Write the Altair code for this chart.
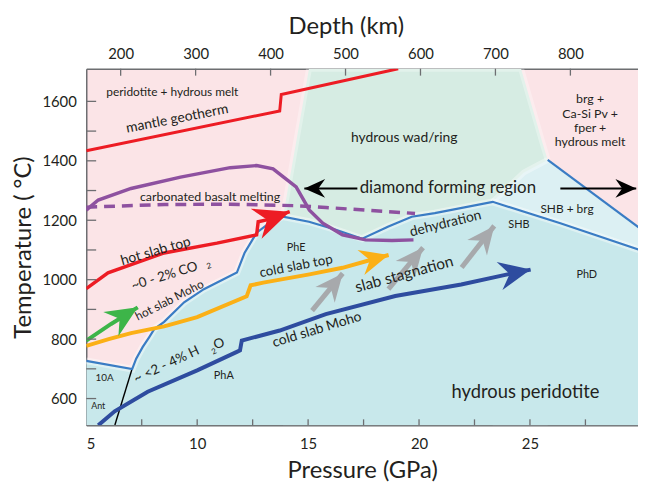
import math
import altair as alt
import pandas as pd

# ---------------- axes / scales ----------------
P_DOMAIN = [5, 29.87]
T_DOMAIN = [510, 1710]
DEPTH_DOMAIN = [154.1, 890.2]
W, H = 557, 360

x_label_values = [5, 10, 15, 20, 25]
x_tick_values = [7.5, 10, 12.5, 15, 17.5, 20, 22.5, 25, 27.5]
y_label_values = [600, 800, 1000, 1200, 1400, 1600]
y_tick_values = [600, 700, 800, 900, 1000, 1100, 1200, 1300, 1400, 1500, 1600]
depth_values = [200, 300, 400, 500, 600, 700, 800]

# ---------------- region boundaries ----------------
green_P = [13.87, 15.04, 24.6, 25.54, 25.8]
green_T = [1212, 1710, 1710, 1467, 1403]

lightcyan_P = [23.32, 24.73, 25.8, 29.9]
lightcyan_T = [1262, 1361, 1403, 1176]

boundary_P = [5, 7.07, 7.25, 7.54, 7.84, 8.07, 8.51, 9.41, 10.3, 11.79, 12.14, 12.68,
              13.26, 13.87, 15.04, 16.25, 17.44, 18.62, 19.67, 20.71, 23.32, 26.37, 29.9]
boundary_T = [727, 699, 734, 773, 807, 834, 858, 924, 968, 1024, 1091, 1158,
              1191, 1212, 1195, 1168, 1138, 1179, 1212, 1224, 1262, 1190, 1101]

upper_P = [25.8, 29.9]
upper_T = [1403, 1176]

black_P = [6.29, 7.05]
black_T = [511, 696]

# ---------------- curves ----------------
mantle_P = [5, 13.72, 13.79, 19.06]
mantle_T = [1434, 1568, 1623, 1710]

hot_top_P = [5, 5.98, 8.51, 10.89, 12.68, 12.75, 13.13, 14.17]
hot_top_T = [970, 1023, 1090, 1123, 1151, 1195, 1201, 1229]

purple_P = [5, 5.54, 7.02, 9.25, 11.49, 12.68, 13.42, 14.46, 15.06, 15.66, 16.55, 17.59, 18.78, 19.75]
purple_T = [1234, 1268, 1307, 1345, 1377, 1384, 1373, 1312, 1234, 1190, 1151, 1134, 1132, 1134]

carb_P = [5, 8.53, 11.47, 14.46, 15.8, 19.82]
carb_T = [1244, 1253, 1254, 1249, 1243, 1223]

cold_top_P = [5, 6.01, 7.02, 8.51, 10.0, 12.23, 12.41, 12.98, 15.06, 16.55, 17.89, 18.63]
cold_top_T = [777, 800, 820, 843, 874, 944, 981, 990, 1018, 1040, 1068, 1083]

cold_moho_P = [5.54, 6.28, 7.77, 10.0, 11.79, 11.93, 12.01, 13.72, 15.8, 18.93, 21.9, 23.99, 25.03]
cold_moho_T = [510, 557, 623, 695, 757, 762, 795, 829, 884, 945, 984, 1018, 1034]

hot_moho_P = [5, 6.12, 7.32]
hot_moho_T = [795, 851, 907]

gray1_P, gray1_T = [15.18, 16.56], [896, 1021]
gray2_P, gray2_T = [18.62, 20.18], [968, 1108]
gray3_P, gray3_T = [21.92, 23.39], [1041, 1181]

diamL_P, diamL_T = [17.22, 14.83], [1307, 1307]
diamR_P, diamR_T = [26.37, 29.79], [1307, 1307]

# ---------------- labels ----------------
label_text = ["peridotite + hydrous melt", "mantle geotherm", "carbonated basalt melting",
              "hot slab top", "~0 - 2% CO", "2", "hot slab Moho", "cold slab top", "PhE",
              "~ <2 - 4% H", "2", "O", "PhA", "10A", "Ant", "cold slab Moho",
              "slab stagnation", "dehydration", "SHB", "SHB + brg", "hydrous wad/ring",
              "brg +", "Ca-Si Pv +", "fper +", "hydrous melt", "diamond forming region",
              "hydrous peridotite", "PhD"]
label_P = [8.88, 9.1, 10.58, 8.13, 8.53, 10.54, 8.75, 14.46, 14.46,
           8.62, 10.77, 10.99, 11.2, 5.83, 5.54, 15.4,
           19.33, 21.2, 24.5, 26.67, 19.33,
           27.71, 27.71, 27.71, 27.71, 21.3,
           24.8, 27.56]
label_T = [1631, 1541, 1277, 1095, 1012, 1045, 931, 1045, 1106,
           714, 757, 784, 676, 668, 575, 831,
           1018, 1188, 1184, 1238, 1475,
           1607, 1557, 1509, 1462, 1307,
           623, 1014]
# style per label: (font size, rotation)
label_style = [(12, 0), (14, 349), (12.5, 0), (14, 344), (13.5, 343), (8, 343), (12, 333),
               (13.5, 349), (11, 0), (13.5, 335), (8, 335), (13.5, 335), (11, 0), (10, 0),
               (9, 0), (14, 343), (15.5, 344.5), (14, 346), (11, 0), (12, 0), (14, 0),
               (12.5, 0), (12.5, 0), (12.5, 0), (12.5, 0), (17, 0), (18.5, 0), (11, 0)]

# ---------------- styling ----------------
FONT = "Lato"
TXT = "#231f20"
AXC = "#6d6e71"
PINK = "#fbe4e7"
GREEN = "#d6ece3"
CYAN = "#c8e8eb"
LCYAN = "#dcf0f3"

xs = alt.Scale(domain=P_DOMAIN, nice=False, zero=False)
ys = alt.Scale(domain=T_DOMAIN, nice=False, zero=False)
KX = W / (P_DOMAIN[1] - P_DOMAIN[0])
KY = H / (T_DOMAIN[1] - T_DOMAIN[0])

X_AXIS = alt.Axis(values=x_label_values, title="Pressure (GPa)", labelPadding=11,
                  titlePadding=8, format="d")
Y_AXIS = alt.Axis(values=y_label_values, title="Temperature ( °C)", labelPadding=10,
                  titlePadding=6, format="d")


def xe(field="P"):
    return alt.X(f"{field}:Q", scale=xs, axis=X_AXIS, title="Pressure (GPa)")


def ye(field="T"):
    return alt.Y(f"{field}:Q", scale=ys, axis=Y_AXIS, title="Temperature ( °C)")


def area(P, T, color):
    df = pd.DataFrame({"P": P, "T": T})
    return alt.Chart(df).mark_area(color=color, opacity=1, clip=True, orient="vertical",
                                   interpolate="linear").encode(
        x=xe(), y=ye(), y2=alt.datum(T_DOMAIN[0]))


def line(P, T, color, width, dash=None, opacity=1.0):
    df = pd.DataFrame({"P": P, "T": T, "i": list(range(len(P)))})
    kw = dict(color=color, strokeWidth=width, clip=True, strokeCap="butt", strokeJoin="miter",
              opacity=opacity)
    if dash:
        kw["strokeDash"] = dash
    return alt.Chart(df).mark_line(**kw).encode(x=xe(), y=ye(), order="i:Q")


layers = [
    area(green_P, green_T, GREEN),
    area(lightcyan_P, lightcyan_T, LCYAN),
    area(boundary_P, boundary_T, CYAN),
    # soft white halos along region edges
    line(green_P, green_T, "#ffffff", 6, opacity=0.3),
    line(lightcyan_P[:3], lightcyan_T[:3], "#ffffff", 6, opacity=0.35),
    line(boundary_P, boundary_T, "#ffffff", 7, opacity=0.4),
    line(black_P, black_T, "#000000", 1.4),
    line(boundary_P, boundary_T, "#3a7cc4", 2.2),
    line(upper_P, upper_T, "#3a7cc4", 2.2),
    line(carb_P, carb_T, "#8e51a0", 3.5, [11, 7]),
    line(purple_P, purple_T, "#8e51a0", 3.5),
    line(mantle_P, mantle_T, "#ed1c24", 3),
    line(hot_top_P, hot_top_T, "#ed1c24", 3.5),
    line(cold_top_P, cold_top_T, "#fbb016", 4),
    line(cold_moho_P, cold_moho_T, "#2e4c9f", 4),
    line(hot_moho_P, hot_moho_T, "#3db549", 4),
    line(gray1_P, gray1_T, "#a7a9ac", 5),
    line(gray2_P, gray2_T, "#a7a9ac", 5),
    line(gray3_P, gray3_T, "#a7a9ac", 5),
    line(diamL_P, diamL_T, "#000000", 2),
    line(diamR_P, diamR_T, "#000000", 2),
]

# arrowheads at the end of each arrow, rotated along the final segment
arrows = [
    (hot_top_P, hot_top_T, "#ed1c24", 36),
    (cold_top_P, cold_top_T, "#fbb016", 29),
    (cold_moho_P, cold_moho_T, "#2e4c9f", 32),
    (hot_moho_P, hot_moho_T, "#3db549", 32),
    (gray1_P, gray1_T, "#a7a9ac", 28),
    (gray2_P, gray2_T, "#a7a9ac", 28),
    (gray3_P, gray3_T, "#a7a9ac", 28),
    (diamL_P, diamL_T, "#000000", 21),
    (diamR_P, diamR_T, "#000000", 21),
]
rows = []
for P, T, c, L in arrows:
    dx = (P[-1] - P[-2]) * KX
    dy = (T[-1] - T[-2]) * KY
    ang = math.degrees(math.atan2(dx, dy)) % 360
    rows.append({"P": P[-1], "T": T[-1], "ang": ang, "c": c, "s": L * L})
heads = alt.Chart(pd.DataFrame(rows)).mark_point(
    shape="M0,0 L0.9,2 L0,1.35 L-0.9,2 Z", filled=True, opacity=1, strokeWidth=0
).encode(
    x=xe(), y=ye(),
    angle=alt.Angle("ang:Q", scale=None),
    color=alt.Color("c:N", scale=None),
    size=alt.Size("s:Q", scale=None),
)
layers.append(heads)

# text labels
for t, p, tt, (fs, a) in zip(label_text, label_P, label_T, label_style):
    df = pd.DataFrame({"P": [p], "T": [tt], "t": [t]})
    layers.append(alt.Chart(df).mark_text(font=FONT, fontSize=fs, angle=a, color=TXT,
                                          align="center", baseline="middle").encode(
        x=xe(), y=ye(), text="t:N"))

# inward ticks
bottom = alt.Chart(pd.DataFrame({"P": x_tick_values})).mark_rule(color=AXC, strokeWidth=1.3).encode(
    x=xe(), y=alt.value(H), y2=alt.value(H - 6))
left = alt.Chart(pd.DataFrame({"T": y_tick_values})).mark_rule(color=AXC, strokeWidth=1.3).encode(
    y=ye(), x=alt.value(0), x2=alt.value(10))
layers += [bottom, left]

main = alt.layer(*layers)

depth = alt.Chart(pd.DataFrame({"d": depth_values})).mark_rule(color=AXC, strokeWidth=1.3).encode(
    x=alt.X("d:Q", scale=alt.Scale(domain=DEPTH_DOMAIN, nice=False, zero=False),
            axis=alt.Axis(orient="top", values=depth_values, title="Depth (km)",
                          labelPadding=7, titlePadding=9, titleX=262, format="d")),
    y=alt.value(0), y2=alt.value(7))

chart = alt.layer(main, depth).resolve_scale(x="independent").properties(
    width=W, height=H, padding={"left": 4, "top": 4, "right": 0, "bottom": 0},
    background="white"
).configure_view(stroke="transparent", fill=PINK).configure_axis(
    labelFont=FONT, titleFont=FONT, labelFontSize=15, titleFontSize=24, titleFontWeight="normal",
    labelColor=TXT, titleColor=TXT, domainColor=AXC, domainWidth=1.5, ticks=False, tickSize=0,
    grid=False
)

chart.save("out.html", embed_options={"renderer": "svg", "actions": False})
